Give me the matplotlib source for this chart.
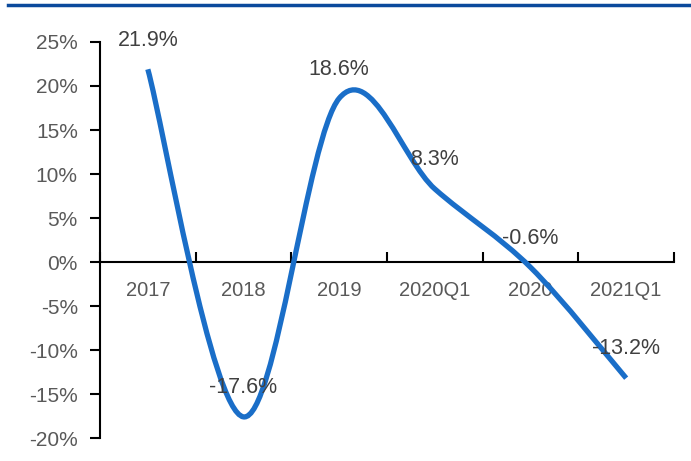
import matplotlib
matplotlib.use('Agg')
import matplotlib.pyplot as plt
import matplotlib.ticker as ticker
from matplotlib.path import Path
from matplotlib.patches import PathPatch
from matplotlib.lines import Line2D

# Données
categories = ['2017', '2018', '2019', '2020Q1', '2020', '2021Q1']
valeurs = [21.9, -17.6, 18.6, 8.3, -0.6, -13.2]
labels = ['21.9%', '-17.6%', '18.6%', '8.3%', '-0.6%', '-13.2%']
y_ticks = [-20, -15, -10, -5, 0, 5, 10, 15, 20, 25]


def chemin_lisse(xs, ys):
    # Courbe lissée façon Excel : Bézier cubiques entre points successifs
    n = len(xs)
    verts = [(xs[0], ys[0])]
    codes = [Path.MOVETO]
    for i in range(n - 1):
        i0 = max(i - 1, 0)
        i3 = min(i + 2, n - 1)
        c1 = (xs[i] + (xs[i + 1] - xs[i0]) / 6, ys[i] + (ys[i + 1] - ys[i0]) / 6)
        c2 = (xs[i + 1] - (xs[i3] - xs[i]) / 6, ys[i + 1] - (ys[i3] - ys[i]) / 6)
        verts += [c1, c2, (xs[i + 1], ys[i + 1])]
        codes += [Path.CURVE4] * 3
    return Path(verts, codes)


plt.rcParams['font.family'] = ['Liberation Sans', 'DejaVu Sans']

fig = plt.figure(figsize=(6.91, 4.61), dpi=100)
W, H = 691, 461
ax = fig.add_axes([100 / W, (H - 438) / H, 574 / W, 396 / H])

xs = list(range(len(categories)))
patch = PathPatch(chemin_lisse(xs, valeurs), facecolor='none', edgecolor='#1a6ec8',
                  linewidth=3.8, capstyle='butt', zorder=3)
ax.add_patch(patch)

for x, v, lab in zip(xs, valeurs, labels):
    ax.annotate(lab, (x, v), xytext=(0, 21), textcoords='offset points',
                ha='center', va='center', fontsize=15.5, color='#404040', zorder=4)

ax.set_xlim(-0.5, len(categories) - 0.5)
ax.set_ylim(-20, 25)

# Axe Y
ax.set_yticks(y_ticks)
ax.yaxis.set_major_formatter(ticker.FuncFormatter(lambda v, _: f"{int(v)}%"))
ax.tick_params(axis='y', direction='out', length=7, width=1.5, pad=9,
               labelsize=15, labelcolor='#595959', color='black')

# Axe X croisant à 0, graduations aux limites des catégories
ax.spines['bottom'].set_position(('data', 0))
ax.set_xticks([i - 0.5 for i in range(len(categories) + 1)])
ax.set_xticklabels([])
ax.set_xticks(xs, minor=True)
ax.set_xticklabels(categories, minor=True)
ax.tick_params(axis='x', which='major', direction='in', length=7, width=1.5)
ax.tick_params(axis='x', which='minor', length=0, pad=14, labelsize=14.5,
               labelcolor='#595959')

for s in ['top', 'right']:
    ax.spines[s].set_visible(False)
ax.spines['left'].set_linewidth(1.5)
ax.spines['bottom'].set_linewidth(1.5)

# Filet bleu en haut
fig.add_artist(Line2D([8 / W, 1], [1 - 5 / H, 1 - 5 / H], color='#0b4a9c',
                      linewidth=2.5, transform=fig.transFigure))

plt.savefig('out.png', dpi=100)
